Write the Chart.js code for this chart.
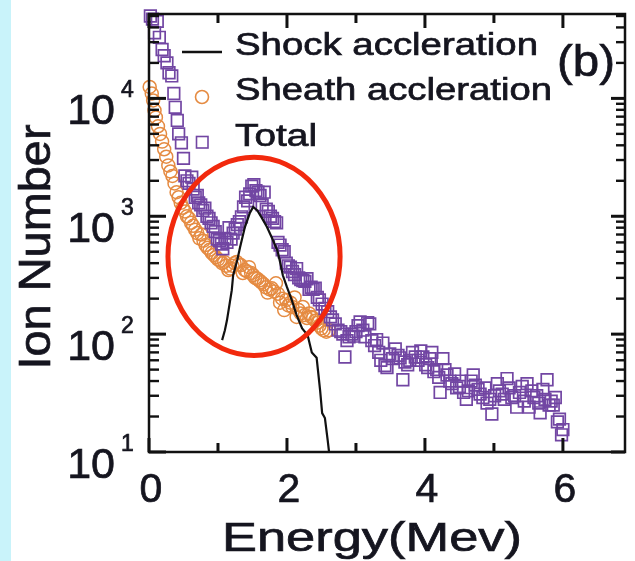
<!DOCTYPE html>
<html lang="en">
<head>
<meta charset="UTF-8" />
<title>Ion Number vs Energy</title>
<script src="https://cdn.jsdelivr.net/npm/chart.js"></script>
<style>
  html, body { margin: 0; padding: 0; background: #fff; }
  .chart-box { position: relative; width: 635px; height: 561px; }
</style>
</head>
<body>
<div class="chart-box"><canvas id="spectrumChart" width="635" height="561"></canvas></div>
<script>
// shock acceleration (black line)
const shockEnergy = [1.06, 1.10, 1.13, 1.17, 1.20, 1.22, 1.28, 1.32, 1.39, 1.46, 1.51, 1.57, 1.64, 1.71, 1.78, 1.86, 1.90, 1.94, 2.00, 2.07, 2.14, 2.22, 2.30, 2.36, 2.43, 2.48, 2.51, 2.55, 2.59, 2.61];
const shockCount = [89, 108, 131, 183, 236, 316, 425, 546, 810, 1060, 1200, 1120, 960, 810, 660, 515, 410, 316, 250, 194, 145, 112, 98, 70, 63, 33.5, 21.4, 19.4, 12.6, 10];

// sheath acceleration (orange circles)
const sheathEnergy = [0.01, 0.04, 0.06, 0.08, 0.10, 0.13, 0.16, 0.19, 0.22, 0.25, 0.28, 0.31, 0.34, 0.37, 0.40, 0.43, 0.46, 0.49, 0.52, 0.55, 0.58, 0.61, 0.64, 0.67, 0.70, 0.73, 0.76, 0.79, 0.82, 0.85, 0.88, 0.91, 0.94, 0.97, 1.00, 1.03, 1.06, 1.09, 1.12, 1.15, 1.18, 1.21, 1.24, 1.27, 1.30, 1.33, 1.36, 1.39, 1.42, 1.45, 1.48, 1.51, 1.54, 1.57, 1.60, 1.63, 1.66, 1.69, 1.72, 1.75, 1.78, 1.81, 1.84, 1.87, 1.90, 1.93, 1.96, 1.99, 2.02, 2.05, 2.08, 2.11, 2.14, 2.17, 2.20, 2.23, 2.26, 2.29, 2.32, 2.35, 2.38, 2.41, 2.44, 2.47, 2.50, 2.53, 2.57, 2.61];
const sheathCount = [12500, 11000, 9600, 7900, 6900, 5800, 5000, 4300, 3700, 3200, 2700, 2400, 2200, 1900, 1600, 1450, 1300, 1180, 1100, 1000, 960, 880, 830, 770, 720, 650, 700, 620, 570, 540, 520, 490, 470, 450, 430, 420, 400, 410, 380, 350, 360, 380, 400, 410, 390, 385, 330, 350, 340, 370, 330, 316, 300, 295, 285, 275, 265, 250, 225, 240, 245, 230, 270, 220, 185, 200, 160, 195, 175, 185, 170, 205, 140, 160, 150, 170, 145, 137, 150, 140, 137, 130, 125, 118, 112, 108, 105, 108];

// total (purple squares)
const totalEnergy = [0.02, 0.05, 0.08, 0.12, 0.15, 0.19, 0.22, 0.26, 0.29, 0.33, 0.36, 0.38, 0.41, 0.43, 0.47, 0.50, 0.52, 0.55, 0.58, 0.62, 0.64, 0.67, 0.70, 0.72, 0.75, 0.78, 0.81, 0.84, 0.87, 0.90, 0.93, 0.96, 0.99, 1.02, 1.05, 1.07, 1.10, 1.13, 1.16, 1.19, 1.22, 1.25, 1.28, 1.31, 1.34, 1.37, 1.40, 1.43, 1.46, 1.49, 1.52, 1.55, 1.58, 1.61, 1.64, 1.67, 1.70, 1.73, 1.76, 1.79, 1.82, 1.85, 1.87, 1.90, 1.93, 1.96, 1.99, 2.02, 2.05, 2.08, 2.11, 2.14, 2.17, 2.20, 2.23, 2.26, 2.29, 2.32, 2.35, 2.38, 2.41, 2.44, 2.47, 2.51, 2.55, 2.59, 2.63, 2.66, 2.70, 2.74, 2.78, 2.81, 2.84, 2.87, 2.90, 2.94, 2.97, 3.00, 3.03, 3.06, 3.10, 3.13, 3.17, 3.20, 3.23, 3.27, 3.30, 3.33, 3.36, 3.39, 3.42, 3.45, 3.49, 3.53, 3.57, 3.61, 3.64, 3.68, 3.71, 3.75, 3.78, 3.82, 3.86, 3.90, 3.94, 3.97, 4.01, 4.04, 4.07, 4.10, 4.13, 4.17, 4.20, 4.22, 4.26, 4.29, 4.32, 4.36, 4.39, 4.43, 4.46, 4.50, 4.53, 4.56, 4.60, 4.63, 4.67, 4.70, 4.73, 4.77, 4.80, 4.84, 4.87, 4.90, 4.94, 4.97, 5.01, 5.05, 5.08, 5.12, 5.15, 5.19, 5.22, 5.26, 5.30, 5.33, 5.37, 5.41, 5.44, 5.48, 5.51, 5.55, 5.58, 5.62, 5.65, 5.67, 5.71, 5.74, 5.77, 5.80, 5.83, 5.86, 5.89, 5.92, 5.95, 5.98, 6.00];
const totalCount = [50000, 47000, 36000, 45000, 33000, 26000, 23000, 20000, 16500, 15500, 11000, 8400, 6500, 5000, 4200, 3100, 2200, 2000, 1900, 2150, 1700, 1450, 1500, 1300, 1250, 1120, 1170, 1000, 960, 880, 820, 740, 640, 620, 580, 530, 650, 600, 800, 640, 720, 780, 850, 900, 990, 1200, 1450, 1350, 1550, 1800, 1850, 1650, 1600, 1500, 1250, 1600, 1150, 1100, 1000, 960, 900, 880, 600, 570, 520, 500, 400, 380, 370, 340, 320, 360, 300, 290, 285, 280, 295, 240, 250, 240, 245, 205, 195, 180, 165, 155, 140, 132, 122, 108, 105, 100, 64, 88, 95, 100, 96, 105, 118, 127, 108, 95, 125, 122, 88, 80, 90, 70, 60, 84, 54, 52, 68, 62, 75, 66, 63, 41, 58, 55, 60, 70, 64, 60, 72, 64, 55, 52, 62, 70, 48, 50, 43, 32, 62, 50, 45, 40, 38, 46, 35, 36, 40, 32, 28, 33, 40, 45, 37, 34, 31, 29, 35, 26, 28, 21, 30, 38, 33, 31, 28, 42, 35, 29, 30, 24, 32, 36, 27, 38, 24, 33, 29, 30, 26, 21.5, 34, 28, 41, 25, 27, 25, 29, 18, 19, 14, 15.5];

// axes
const xMin = 0, xMax = 6.9;
const yMin = 10, yMax = 52000;
const xMajorTicks = [0, 2, 4, 6];
const xMinorTicks = [1, 3, 5];
const yDecades = [1, 2, 3, 4];

const legendLabels = ["Shock accleration", "Sheath accleration", "Total"];
const panelLabel = "(b)";
const xTitle = "Energy(Mev)";
const yTitle = "Ion Number";

// highlighted region (red ellipse), in data units
const highlightE = [0.275, 2.77];
const highlightN = [66, 3160];

const textColor = "#15151f";
const tickColor = "#111";
const purple = "#7246a3";
const orange = "#e58b42";
const font = '"Liberation Sans", Arial, sans-serif';

function pairs(xs, ys) {
  return xs.map((x, i) => ({ x: x, y: ys[i] }));
}

function drawText(ctx, text, x, y, size, width, align) {
  ctx.font = size + "px " + font;
  const w = ctx.measureText(text).width;
  const sx = width ? width / w : 1;
  ctx.save();
  ctx.translate(x, y);
  ctx.scale(sx, 1);
  ctx.textAlign = align || "left";
  ctx.textBaseline = "alphabetic";
  ctx.fillStyle = textColor;
  ctx.strokeStyle = textColor;
  ctx.lineWidth = 0.7;
  ctx.fillText(text, 0, 0);
  ctx.strokeText(text, 0, 0);
  ctx.restore();
}

const decorPlugin = {
  id: "decor",
  beforeDraw(chart) {
    const ctx = chart.ctx;
    ctx.save();
    ctx.fillStyle = "#fff";
    ctx.fillRect(0, 0, chart.width, chart.height);
    ctx.fillStyle = "#c9f3fa";
    ctx.fillRect(0, 0, 11, chart.height);
    ctx.restore();
  },
  afterDatasetsDraw(chart) {
    const ctx = chart.ctx;
    const a = chart.chartArea;
    const xs = chart.scales.x, ys = chart.scales.y;
    ctx.save();

    // red ellipse
    const l = xs.getPixelForValue(highlightE[0]), r = xs.getPixelForValue(highlightE[1]);
    const b = ys.getPixelForValue(highlightN[0]), t = ys.getPixelForValue(highlightN[1]);
    ctx.beginPath();
    ctx.ellipse((l + r) / 2, (t + b) / 2, (r - l) / 2, (b - t) / 2, 0, 0, Math.PI * 2);
    ctx.strokeStyle = "#f2290d";
    ctx.lineWidth = 5;
    ctx.stroke();

    // frame
    ctx.strokeStyle = "#111";
    ctx.lineWidth = 2.5;
    ctx.strokeRect(a.left, a.top, a.right - a.left, a.bottom - a.top);

    // ticks pointing into the plot
    ctx.fillStyle = tickColor;
    const xTick = (v, len) => {
      const p = xs.getPixelForValue(v);
      ctx.fillRect(p - 1.5, a.bottom - len, 3, len);
      ctx.fillRect(p - 1.5, a.top, 3, len);
    };
    xMajorTicks.forEach(v => xTick(v, 14));
    xMinorTicks.forEach(v => xTick(v, 9));

    const yTick = (v, lenL, lenR, w) => {
      const p = ys.getPixelForValue(v);
      if (p < a.top + 1) return;
      ctx.fillRect(a.left, p - w / 2, lenL, w);
      ctx.fillRect(a.right - lenR, p - w / 2, lenR, w);
    };
    yDecades.forEach(d => {
      yTick(Math.pow(10, d), 17, 14, 3);
      for (let m = 2; m <= 9; m++) {
        const v = m * Math.pow(10, d);
        if (v < yMax) yTick(v, 10, 9, 2.4);
      }
    });

    // tick labels
    xMajorTicks.forEach(v => {
      drawText(ctx, String(v), xs.getPixelForValue(v) + 2, a.bottom + 50, 41, 0, "center");
    });
    yDecades.forEach(d => {
      const p = ys.getPixelForValue(Math.pow(10, d));
      drawText(ctx, "10", a.left - 34, p + 26, 43, 0, "right");
      drawText(ctx, String(d), a.left - 28, p - 1, 23, 0, "left");
    });

    // axis titles
    drawText(ctx, xTitle, 372, 551, 41, 300, "center");
    ctx.save();
    ctx.translate(50, 247);
    ctx.rotate(-Math.PI / 2);
    drawText(ctx, yTitle, 0, 0, 45, 245, "center");
    ctx.restore();

    // legend
    const lx = a.left + 33, tx = a.left + 86;
    ctx.strokeStyle = "#111";
    ctx.lineWidth = 2.5;
    ctx.beginPath();
    ctx.moveTo(lx, 52);
    ctx.lineTo(lx + 40, 52);
    ctx.stroke();
    ctx.lineWidth = 1.6;
    ctx.strokeStyle = orange;
    ctx.beginPath();
    ctx.arc(lx + 20, 97, 6.5, 0, Math.PI * 2);
    ctx.stroke();
    ctx.strokeStyle = purple;
    ctx.strokeRect(lx + 14.5, 136.5, 11.5, 11.5);
    drawText(ctx, legendLabels[0], tx, 55, 31, 303, "left");
    drawText(ctx, legendLabels[1], tx, 100, 31, 317, "left");
    drawText(ctx, legendLabels[2], tx, 146, 31, 82, "left");
    drawText(ctx, panelLabel, 586, 76, 44, 58, "center");

    ctx.restore();
  }
};

new Chart(document.getElementById("spectrumChart").getContext("2d"), {
  type: "scatter",
  data: {
    datasets: [
      {
        label: legendLabels[0],
        data: pairs(shockEnergy, shockCount),
        showLine: true,
        borderColor: "#111",
        borderWidth: 2.2,
        pointRadius: 0,
        tension: 0
      },
      {
        label: legendLabels[2],
        data: pairs(totalEnergy, totalCount),
        pointStyle: "rect",
        pointRadius: 8.2,
        borderColor: purple,
        borderWidth: 1.7,
        backgroundColor: "rgba(255,255,255,0)",
        clip: false
      },
      {
        label: legendLabels[1],
        data: pairs(sheathEnergy, sheathCount),
        pointStyle: "circle",
        pointRadius: 6.5,
        borderColor: orange,
        borderWidth: 1.5,
        backgroundColor: "rgba(255,255,255,0)",
        clip: false
      }
    ]
  },
  options: {
    responsive: false,
    devicePixelRatio: 1,
    animation: false,
    layout: { padding: { left: 149, right: 10, top: 14, bottom: 109 } },
    plugins: { legend: { display: false }, tooltip: { enabled: false } },
    scales: {
      x: { type: "linear", min: xMin, max: xMax, display: false },
      y: { type: "logarithmic", min: yMin, max: yMax, display: false }
    }
  },
  plugins: [decorPlugin]
});
</script>
</body>
</html>
